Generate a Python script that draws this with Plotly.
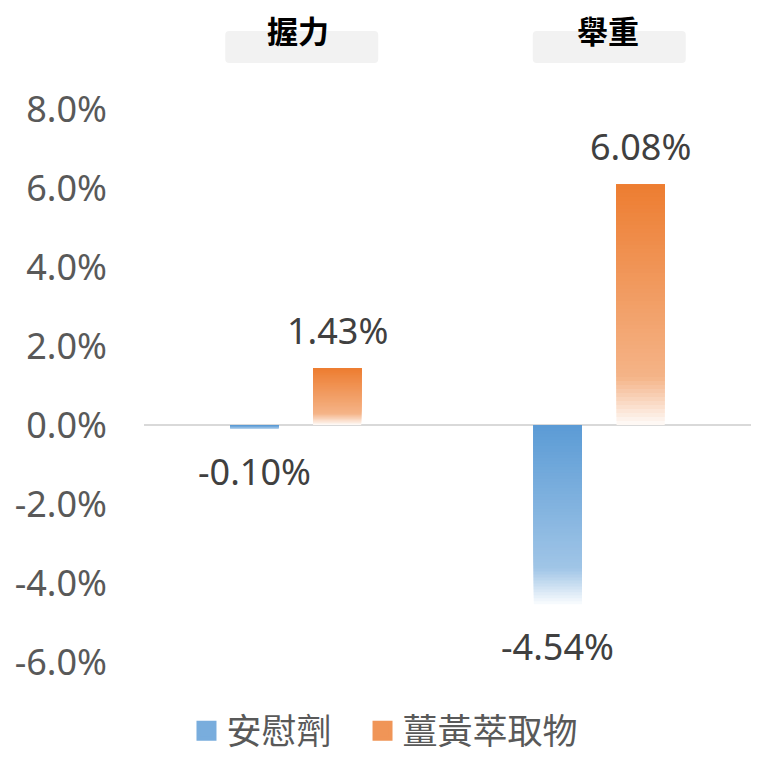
import plotly.graph_objects as go

# ---- data ----
categories = ["握力", "舉重"]
series_names = ["安慰劑", "薑黃萃取物"]
placebo = [-0.10, -4.54]
curcumin = [1.43, 6.08]
data_labels_placebo = ["-0.10%", "-4.54%"]
data_labels_curcumin = ["1.43%", "6.08%"]
tick_vals = [8, 6, 4, 2, 0, -2, -4, -6]
tick_text = ["8.0%", "6.0%", "4.0%", "2.0%", "0.0%", "-2.0%", "-4.0%", "-6.0%"]

# ---- style ----
base_colors = {"安慰劑": (91, 155, 213), "薑黃萃取物": (237, 125, 49)}
legend_ids = {"安慰劑": "legend", "薑黃萃取物": "legend2"}
N_SEG = 60
NUM_FONT = "Noto Sans, Noto Sans CJK TC, sans-serif"
CJK_FONT = "Noto Sans CJK TC, Noto Sans, sans-serif"


def tint(rgb, f):
    return tuple(c + (255 - c) * f for c in rgb)


def grad_color(rgb, t):
    # t: 0 at top of bar, 1 at bottom
    stops = [(0.0, 0.0), (0.8, 0.42), (1.0, 0.97)]
    for (t0, f0), (t1, f1) in zip(stops[:-1], stops[1:]):
        if t <= t1:
            f = f0 + (f1 - f0) * (t - t0) / (t1 - t0)
            break
    c = tint(rgb, f)
    return "rgb(%d,%d,%d)" % tuple(round(v) for v in c)


fig = go.Figure()


def add_gradient_bars(name, values):
    rgb = base_colors[name]
    tops = [max(v, 0) for v in values]
    heights = [abs(v) for v in values]
    # draw the longest (bottom colour) first, then shorter layers on top
    for k in range(N_SEG - 1, -1, -1):
        frac = (k + 1) / N_SEG
        t = (k + 0.5) / N_SEG
        fig.add_trace(go.Bar(
            x=categories,
            y=[h * frac for h in heights],
            base=[top - h * frac for top, h in zip(tops, heights)],
            marker=dict(color=grad_color(rgb, t), line=dict(width=0)),
            offsetgroup=name,
            name=name,
            legendgroup=name,
            showlegend=False,
            hoverinfo="skip",
        ))


add_gradient_bars("安慰劑", placebo)
add_gradient_bars("薑黃萃取物", curcumin)

# legend entries (one legend box per series for exact placement)
for name in series_names:
    col = grad_color(base_colors[name], 0.35)
    fig.add_trace(go.Scatter(
        x=[None], y=[None], mode="markers", name=name, legendgroup=name,
        legend=legend_ids[name],
        marker=dict(symbol="square", size=16, color=col,
                    line=dict(width=4, color=col)),
    ))

# data labels
annotations = []
for vals, labels, xs in [(placebo, data_labels_placebo, -41.5),
                         (curcumin, data_labels_curcumin, 41.5)]:
    for cat, v, lab in zip(categories, vals, labels):
        annotations.append(dict(
            x=cat, y=v, xref="x", yref="y", text=lab, showarrow=False,
            xshift=xs, yshift=(12 if v >= 0 else -16),
            yanchor=("bottom" if v >= 0 else "top"),
            font=dict(family=NUM_FONT, size=36, color="#404040"),
        ))

# category header labels + rounded boxes
shapes = []
text_shift = [2, 9]
box_shift = [6, 10]
for i, cat in enumerate(categories):
    annotations.append(dict(
        x=cat, y=1.144, xref="x", yref="paper", text="<b>%s</b>" % cat,
        showarrow=False, xshift=text_shift[i], yanchor="middle",
        font=dict(family=CJK_FONT, size=31, color="#000000"),
    ))
    x0, x1 = -76.5 + box_shift[i], 76.5 + box_shift[i]
    y0, y1 = 46, 78
    r = 4
    path = (f"M{x0+r},{y0} L{x1-r},{y0} Q{x1},{y0} {x1},{y0+r} "
            f"L{x1},{y1-r} Q{x1},{y1} {x1-r},{y1} L{x0+r},{y1} "
            f"Q{x0},{y1} {x0},{y1-r} L{x0},{y0+r} Q{x0},{y0} {x0+r},{y0} Z")
    shapes.append(dict(
        type="path", xref="x", yref="paper", xsizemode="pixel",
        ysizemode="pixel", xanchor=i, yanchor=1, path=path,
        fillcolor="#f2f2f2", line=dict(width=0), layer="below",
    ))

legend_common = dict(orientation="h", xanchor="left", y=-0.1248,
                     yanchor="middle",
                     font=dict(family=CJK_FONT, size=35, color="#595959"),
                     itemclick=False, itemdoubleclick=False,
                     bgcolor="rgba(0,0,0,0)")

fig.update_layout(
    width=752, height=752,
    margin=dict(l=136, r=9, t=101, b=98, autoexpand=False),
    paper_bgcolor="white", plot_bgcolor="white",
    barmode="group", bargap=0.4545, bargroupgap=0.418,
    showlegend=True,
    legend=dict(x=0.070, **legend_common),
    legend2=dict(x=0.360, **legend_common),
    xaxis=dict(showticklabels=False, showgrid=False, zeroline=False,
               showline=False, ticks="", fixedrange=True),
    yaxis=dict(range=[-6, 8], tickvals=tick_vals, ticktext=tick_text,
               showgrid=False, zeroline=True, zerolinecolor="#d9d9d9",
               zerolinewidth=1.5, showline=False, ticks="",
               ticklabelstandoff=36, fixedrange=True, automargin=False,
               tickfont=dict(family=NUM_FONT, size=36, color="#595959")),
    annotations=annotations,
    shapes=shapes,
)

fig.write_html("out.html")
